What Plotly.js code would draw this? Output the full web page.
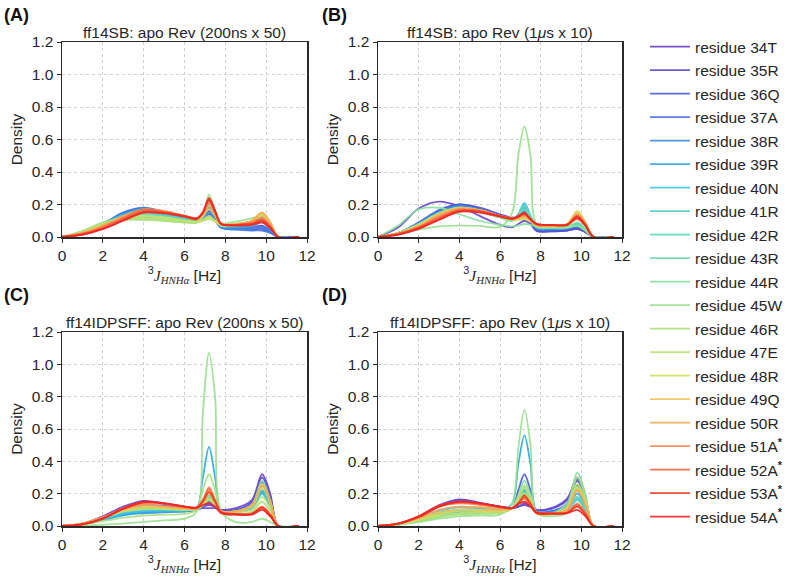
<!DOCTYPE html>
<html>
<head>
<meta charset="utf-8">
<script src="https://cdn.plot.ly/plotly-3.0.1.min.js"></script>
<style>html,body{margin:0;padding:0;background:#fff;}#chart{width:800px;height:576px;}</style>
</head>
<body>
<div id="chart"></div>
<script>
// J-coupling grid (Hz)
const jGrid = [0, 1, 2, 3, 4, 5, 6, 6.6, 6.9, 7.2, 7.5, 7.8, 8.5, 9.3, 9.8, 10.2, 10.6, 11.6];

const residues = ["34T","35R","36Q","37A","38R","39R","40N","41R","42R","43R","44R","45W","46R","47E","48R","49Q","50R","51A*","52A*","53A*","54A*"];

const panelTitles = ["ff14SB: apo Rev (200ns x 50)", "ff14SB: apo Rev (1<i>\u03bc</i>s x 10)",
                     "ff14IDPSFF: apo Rev (200ns x 50)", "ff14IDPSFF: apo Rev (1<i>\u03bc</i>s x 10)"];
const panelLabels = ["(A)", "(B)", "(C)", "(D)"];

// Panel A: ff14SB 200ns x 50
const densA = [
 [0,0.025,0.07,0.13,0.165,0.15,0.125,0.11,0.125,0.17,0.13,0.07,0.06,0.06,0.07,0.04,0,0],
 [0,0.025,0.075,0.14,0.17,0.15,0.12,0.11,0.12,0.16,0.12,0.065,0.055,0.05,0.06,0.035,0,0],
 [0,0.03,0.08,0.15,0.175,0.15,0.12,0.105,0.115,0.14,0.11,0.06,0.05,0.045,0.05,0.03,0,0],
 [0,0.03,0.08,0.15,0.18,0.155,0.12,0.105,0.11,0.13,0.1,0.055,0.045,0.04,0.04,0.025,0,0],
 [0,0.03,0.08,0.145,0.175,0.15,0.12,0.105,0.12,0.15,0.11,0.06,0.05,0.05,0.06,0.035,0,0],
 [0,0.03,0.08,0.14,0.17,0.145,0.12,0.105,0.12,0.17,0.12,0.065,0.06,0.065,0.09,0.05,0,0],
 [0,0.03,0.08,0.135,0.16,0.14,0.115,0.1,0.12,0.18,0.13,0.07,0.065,0.075,0.11,0.06,0,0],
 [0,0.03,0.08,0.13,0.15,0.135,0.11,0.1,0.125,0.19,0.13,0.07,0.07,0.085,0.12,0.07,0,0],
 [0,0.03,0.08,0.125,0.14,0.13,0.11,0.1,0.13,0.2,0.14,0.075,0.07,0.09,0.13,0.075,0,0],
 [0,0.035,0.085,0.12,0.13,0.12,0.1,0.095,0.125,0.21,0.14,0.075,0.075,0.095,0.135,0.08,0,0],
 [0,0.035,0.09,0.115,0.12,0.11,0.095,0.09,0.125,0.22,0.14,0.08,0.08,0.1,0.14,0.08,0,0],
 [0,0.035,0.085,0.105,0.11,0.1,0.09,0.09,0.13,0.26,0.16,0.085,0.095,0.115,0.13,0.075,0,0],
 [0,0.035,0.085,0.105,0.105,0.1,0.09,0.09,0.1,0.12,0.1,0.07,0.07,0.08,0.1,0.06,0,0],
 [0,0.03,0.08,0.11,0.115,0.105,0.095,0.09,0.1,0.11,0.095,0.07,0.075,0.09,0.13,0.075,0,0],
 [0,0.03,0.075,0.12,0.13,0.12,0.1,0.095,0.105,0.13,0.1,0.075,0.075,0.095,0.14,0.08,0,0],
 [0,0.025,0.07,0.125,0.16,0.15,0.125,0.11,0.13,0.17,0.13,0.08,0.08,0.1,0.15,0.09,0,0],
 [0,0.025,0.07,0.13,0.17,0.155,0.13,0.115,0.14,0.19,0.14,0.08,0.08,0.1,0.15,0.09,0,0],
 [0,0.02,0.06,0.12,0.17,0.16,0.13,0.115,0.145,0.21,0.15,0.08,0.075,0.09,0.12,0.07,0,0],
 [0,0.02,0.06,0.115,0.165,0.155,0.13,0.115,0.15,0.22,0.15,0.08,0.075,0.085,0.11,0.065,0,0],
 [0,0.015,0.05,0.105,0.155,0.15,0.13,0.115,0.155,0.24,0.16,0.08,0.075,0.08,0.1,0.06,0,0],
 [0,0.015,0.05,0.1,0.15,0.145,0.125,0.11,0.15,0.23,0.16,0.08,0.07,0.075,0.09,0.055,0,0]
];

// Panel B: ff14SB 1us x 10
const densB = [
 [0,0.06,0.175,0.218,0.19,0.13,0.075,0.06,0.08,0.1,0.08,0.035,0.035,0.04,0.05,0.03,0,0],
 [0,0.02,0.08,0.16,0.2,0.18,0.14,0.12,0.12,0.13,0.1,0.04,0.035,0.04,0.05,0.03,0,0],
 [0,0.025,0.09,0.165,0.2,0.175,0.135,0.115,0.12,0.14,0.1,0.045,0.04,0.045,0.06,0.035,0,0],
 [0,0.025,0.085,0.16,0.195,0.17,0.13,0.11,0.12,0.15,0.11,0.05,0.045,0.05,0.07,0.04,0,0],
 [0,0.025,0.085,0.155,0.19,0.17,0.13,0.11,0.125,0.16,0.11,0.055,0.05,0.055,0.08,0.045,0,0],
 [0,0.025,0.08,0.15,0.185,0.165,0.13,0.11,0.13,0.18,0.12,0.06,0.05,0.055,0.07,0.04,0,0],
 [0,0.025,0.08,0.15,0.18,0.16,0.125,0.105,0.14,0.21,0.13,0.06,0.055,0.055,0.07,0.04,0,0],
 [0,0.025,0.08,0.145,0.175,0.16,0.125,0.105,0.14,0.2,0.13,0.06,0.055,0.06,0.08,0.045,0,0],
 [0,0.025,0.08,0.145,0.17,0.155,0.12,0.1,0.135,0.19,0.12,0.06,0.055,0.06,0.08,0.045,0,0],
 [0,0.025,0.075,0.14,0.17,0.155,0.12,0.1,0.13,0.17,0.12,0.06,0.055,0.06,0.09,0.05,0,0],
 [0,0.07,0.17,0.18,0.14,0.1,0.075,0.065,0.07,0.08,0.075,0.065,0.06,0.06,0.07,0.04,0,0],
 [0,0.02,0.045,0.065,0.07,0.068,0.062,0.15,0.5,0.68,0.5,0.08,0.06,0.06,0.07,0.04,0,0],
 [0,0.025,0.075,0.14,0.17,0.155,0.125,0.105,0.11,0.12,0.1,0.065,0.06,0.07,0.12,0.07,0,0],
 [0,0.025,0.075,0.14,0.175,0.16,0.125,0.105,0.105,0.11,0.095,0.07,0.065,0.075,0.14,0.08,0,0],
 [0,0.025,0.075,0.145,0.18,0.165,0.13,0.11,0.11,0.115,0.1,0.075,0.07,0.08,0.16,0.09,0,0],
 [0,0.02,0.07,0.14,0.18,0.165,0.13,0.11,0.115,0.12,0.1,0.075,0.07,0.08,0.15,0.09,0,0],
 [0,0.02,0.065,0.135,0.175,0.165,0.13,0.115,0.12,0.13,0.105,0.075,0.07,0.08,0.14,0.085,0,0],
 [0,0.02,0.06,0.125,0.17,0.16,0.13,0.115,0.12,0.14,0.11,0.075,0.07,0.075,0.12,0.075,0,0],
 [0,0.02,0.06,0.12,0.165,0.16,0.13,0.115,0.125,0.14,0.11,0.08,0.075,0.075,0.11,0.07,0,0],
 [0,0.015,0.055,0.11,0.16,0.155,0.13,0.115,0.13,0.15,0.11,0.08,0.075,0.075,0.13,0.075,0,0],
 [0,0.015,0.05,0.105,0.155,0.15,0.125,0.11,0.125,0.145,0.11,0.08,0.075,0.075,0.12,0.07,0,0]
];

// Panel C: ff14IDPSFF 200ns x 50
const densC = [
 [0,0.015,0.06,0.12,0.155,0.14,0.12,0.11,0.11,0.11,0.11,0.1,0.11,0.16,0.32,0.2,0,0],
 [0,0.015,0.055,0.11,0.15,0.135,0.115,0.11,0.12,0.13,0.12,0.1,0.1,0.15,0.3,0.18,0,0],
 [0,0.015,0.05,0.1,0.13,0.125,0.11,0.105,0.12,0.14,0.12,0.095,0.095,0.14,0.27,0.16,0,0],
 [0,0.01,0.04,0.075,0.09,0.095,0.095,0.1,0.12,0.15,0.12,0.09,0.09,0.12,0.22,0.13,0,0],
 [0,0.01,0.04,0.07,0.08,0.085,0.09,0.1,0.13,0.17,0.13,0.09,0.09,0.12,0.21,0.125,0,0],
 [0,0.01,0.035,0.065,0.085,0.09,0.09,0.11,0.3,0.49,0.3,0.09,0.085,0.11,0.2,0.12,0,0],
 [0,0.01,0.04,0.075,0.09,0.095,0.095,0.105,0.13,0.17,0.13,0.09,0.09,0.12,0.2,0.12,0,0],
 [0,0.015,0.045,0.085,0.1,0.1,0.1,0.105,0.13,0.18,0.13,0.09,0.09,0.125,0.22,0.13,0,0],
 [0,0.015,0.05,0.09,0.11,0.105,0.1,0.105,0.13,0.19,0.14,0.09,0.09,0.13,0.24,0.14,0,0],
 [0,0.015,0.05,0.09,0.11,0.105,0.1,0.105,0.13,0.2,0.14,0.09,0.09,0.13,0.25,0.15,0,0],
 [0,0.015,0.05,0.095,0.115,0.11,0.105,0.105,0.13,0.18,0.13,0.09,0.09,0.13,0.28,0.16,0,0],
 [0,0.003,0.008,0.015,0.025,0.035,0.045,0.09,0.7,1.07,0.8,0.09,0.025,0.025,0.045,0.025,0,0],
 [0,0.01,0.03,0.05,0.065,0.07,0.075,0.1,0.22,0.32,0.22,0.08,0.07,0.09,0.15,0.09,0,0],
 [0,0.015,0.05,0.09,0.105,0.105,0.1,0.105,0.13,0.17,0.13,0.09,0.085,0.1,0.18,0.11,0,0],
 [0,0.015,0.05,0.095,0.115,0.11,0.105,0.11,0.13,0.16,0.13,0.09,0.09,0.12,0.24,0.14,0,0],
 [0,0.015,0.05,0.1,0.12,0.115,0.105,0.11,0.14,0.2,0.14,0.09,0.09,0.13,0.26,0.15,0,0],
 [0,0.015,0.055,0.105,0.13,0.12,0.11,0.11,0.15,0.22,0.15,0.09,0.09,0.13,0.25,0.15,0,0],
 [0,0.015,0.05,0.11,0.14,0.135,0.115,0.115,0.16,0.24,0.16,0.085,0.075,0.08,0.12,0.07,0,0],
 [0,0.01,0.05,0.11,0.145,0.14,0.12,0.115,0.16,0.23,0.16,0.085,0.075,0.075,0.11,0.065,0,0],
 [0,0.01,0.045,0.11,0.15,0.14,0.12,0.115,0.15,0.21,0.15,0.085,0.075,0.075,0.115,0.07,0,0],
 [0,0.01,0.045,0.105,0.148,0.14,0.12,0.11,0.13,0.14,0.12,0.08,0.07,0.07,0.1,0.06,0,0]
];

// Panel D: ff14IDPSFF 1us x 10
const densD = [
 [0,0.015,0.06,0.13,0.165,0.145,0.12,0.11,0.12,0.13,0.12,0.1,0.11,0.17,0.3,0.18,0,0],
 [0,0.015,0.055,0.12,0.16,0.14,0.12,0.11,0.12,0.14,0.12,0.1,0.105,0.16,0.28,0.17,0,0],
 [0,0.01,0.03,0.06,0.08,0.08,0.085,0.11,0.22,0.32,0.22,0.09,0.09,0.14,0.29,0.17,0,0],
 [0,0.01,0.035,0.07,0.09,0.09,0.09,0.11,0.16,0.22,0.16,0.09,0.09,0.13,0.25,0.15,0,0],
 [0,0.01,0.04,0.08,0.1,0.1,0.095,0.11,0.15,0.2,0.15,0.09,0.085,0.12,0.22,0.13,0,0],
 [0,0.01,0.035,0.065,0.08,0.085,0.09,0.14,0.38,0.56,0.38,0.09,0.08,0.11,0.2,0.12,0,0],
 [0,0.015,0.045,0.09,0.115,0.11,0.1,0.11,0.15,0.2,0.15,0.09,0.08,0.1,0.17,0.1,0,0],
 [0,0.015,0.05,0.1,0.12,0.115,0.105,0.11,0.14,0.19,0.14,0.085,0.08,0.1,0.16,0.1,0,0],
 [0,0.01,0.04,0.08,0.1,0.1,0.095,0.11,0.15,0.21,0.15,0.085,0.08,0.11,0.18,0.11,0,0],
 [0,0.01,0.035,0.07,0.09,0.09,0.09,0.11,0.16,0.23,0.16,0.08,0.075,0.12,0.24,0.14,0,0],
 [0,0.01,0.03,0.06,0.075,0.08,0.085,0.11,0.19,0.28,0.19,0.08,0.075,0.14,0.33,0.2,0,0],
 [0,0.008,0.025,0.045,0.06,0.065,0.07,0.14,0.48,0.72,0.5,0.08,0.06,0.08,0.13,0.08,0,0],
 [0,0.01,0.03,0.055,0.07,0.075,0.08,0.11,0.18,0.25,0.18,0.08,0.07,0.12,0.3,0.18,0,0],
 [0,0.01,0.035,0.065,0.08,0.085,0.085,0.11,0.17,0.24,0.17,0.08,0.07,0.11,0.26,0.16,0,0],
 [0,0.015,0.04,0.075,0.095,0.095,0.09,0.11,0.15,0.2,0.15,0.08,0.075,0.11,0.24,0.14,0,0],
 [0,0.015,0.045,0.085,0.1,0.1,0.095,0.11,0.14,0.18,0.14,0.08,0.075,0.11,0.23,0.14,0,0],
 [0,0.015,0.05,0.1,0.12,0.115,0.105,0.11,0.14,0.17,0.13,0.08,0.075,0.1,0.22,0.13,0,0],
 [0,0.015,0.06,0.12,0.14,0.13,0.115,0.11,0.14,0.17,0.13,0.085,0.075,0.085,0.14,0.08,0,0],
 [0,0.015,0.06,0.125,0.145,0.135,0.115,0.11,0.14,0.18,0.13,0.085,0.08,0.085,0.13,0.08,0,0],
 [0,0.015,0.06,0.125,0.15,0.14,0.12,0.11,0.14,0.19,0.14,0.085,0.08,0.08,0.12,0.07,0,0],
 [0,0.015,0.055,0.12,0.15,0.14,0.12,0.11,0.135,0.15,0.12,0.08,0.075,0.08,0.1,0.06,0,0]
];

const yTickVals = [0, 0.2, 0.4, 0.6, 0.8, 1.0, 1.2];
const xTickVals = [0, 2, 4, 6, 8, 10, 12];

// styling
const colors = ["#6a3fc8","#5a4ad2","#4a5cd8","#4670da","#3c8ae0","#2aa6e8","#3cc4e8","#4ccccc",
                "#5cd6bc","#6edcae","#86e0a0","#98e08e","#aae080","#bce072","#cde05e","#eec256",
                "#f8a654","#f8864c","#f86444","#f03a26","#f02424"];
const FONT = "Liberation Sans, Arial, sans-serif";
const TXT = "#262626";

const panels = [densA, densB, densC, densD];
const axIds = [["x","y"],["x2","y2"],["x3","y3"],["x4","y4"]];
const traces = [];
panels.forEach((dens, p) => {
  dens.forEach((vals, i) => {
    const lab = residues[i].endsWith("*") ? "residue " + residues[i].slice(0, -1) + "<sup><b>*</b></sup>" : "residue " + residues[i];
    traces.push({
      type: "scatter", mode: "lines", x: jGrid, y: vals,
      xaxis: axIds[p][0], yaxis: axIds[p][1],
      name: lab, legendgroup: "r" + i, showlegend: p === 0,
      line: {color: colors[i], width: 1.8, shape: "spline", smoothing: 0.9},
      opacity: 0.9, hoverinfo: "skip"
    });
  });
});

const W = 800, H = 576;
const xDom = [[62/W, 307/W], [378/W, 622/W]];
const yDom = [[1 - 237/H, 1 - 42/H], [1 - 526/H, 1 - 332/H]];
const xTitle = "<sup>3</sup><span style=\"font-family:Liberation Serif, serif\"><i>J</i><sub><i>HNH\u03b1</i></sub></span> [Hz]";

function xa(dom, anchor) {
  return {domain: dom, anchor: anchor, range: [0, 12], tickvals: xTickVals, ticktext: xTickVals.map(String),
    showline: true, mirror: true, linecolor: "#2a2a2a", linewidth: 1.5, ticks: "outside", ticklen: 4, tickcolor: "#2a2a2a",
    showgrid: true, gridcolor: "#cfcfcf", griddash: "dot", gridwidth: 1, zeroline: false,
    tickfont: {family: FONT, size: 15.5, color: TXT},
    title: {text: xTitle, font: {family: FONT, size: 15.5, color: TXT}, standoff: 3}};
}
function ya(dom, anchor) {
  return {domain: dom, anchor: anchor, range: [0, 1.2], tickvals: yTickVals, ticktext: yTickVals.map(v => v.toFixed(1)),
    showline: true, mirror: true, linecolor: "#2a2a2a", linewidth: 1.5, ticks: "outside", ticklen: 4, tickcolor: "#2a2a2a",
    showgrid: true, gridcolor: "#cfcfcf", griddash: "dot", gridwidth: 1, zeroline: false,
    tickfont: {family: FONT, size: 15.5, color: TXT},
    title: {text: "Density", font: {family: FONT, size: 15.5, color: TXT}, standoff: 5}};
}

const annotations = [];
const cells = [[0,0],[1,0],[0,1],[1,1]];
cells.forEach(([c, r], p) => {
  const xc = (xDom[c][0] + xDom[c][1]) / 2;
  annotations.push({text: panelTitles[p], xref: "paper", yref: "paper", x: xc, y: yDom[r][1], xanchor: "center", yanchor: "bottom",
    yshift: -1, showarrow: false, font: {family: FONT, size: 15.5, color: TXT}});
  annotations.push({text: "<b>" + panelLabels[p] + "</b>", xref: "paper", yref: "paper",
    x: c === 0 ? 2/W : 320/W, y: r === 0 ? 1 - 15/H : 1 - 295/H, xanchor: "left", yanchor: "middle",
    showarrow: false, font: {family: FONT, size: 18, color: "#111"}});
});

const layout = {
  width: W, height: H, margin: {l: 0, r: 0, t: 0, b: 0},
  paper_bgcolor: "#fff", plot_bgcolor: "#fff",
  font: {family: FONT, color: TXT},
  showlegend: true,
  legend: {x: 645/W, y: 1 - 30/H, xanchor: "left", yanchor: "top", font: {family: FONT, size: 15.5, color: TXT},
    bgcolor: "rgba(0,0,0,0)", tracegroupgap: 0.35, itemwidth: 40},
  xaxis: xa(xDom[0], "y"), yaxis: ya(yDom[0], "x"),
  xaxis2: xa(xDom[1], "y2"), yaxis2: ya(yDom[0], "x2"),
  xaxis3: xa(xDom[0], "y3"), yaxis3: ya(yDom[1], "x3"),
  xaxis4: xa(xDom[1], "y4"), yaxis4: ya(yDom[1], "x4"),
  annotations: annotations
};

Plotly.newPlot("chart", traces, layout, {staticPlot: true, displayModeBar: false});
</script>
</body>
</html>
